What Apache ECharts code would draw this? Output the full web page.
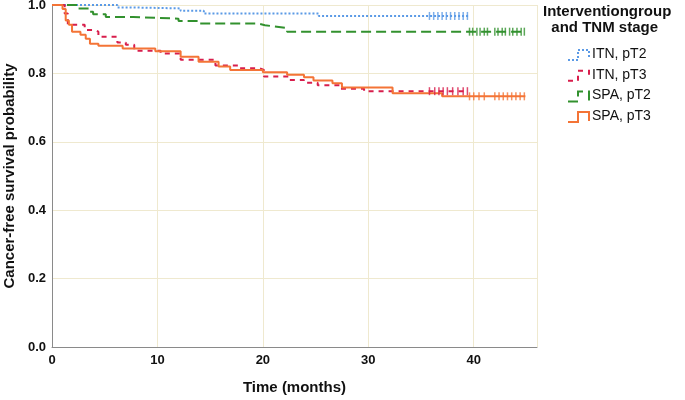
<!DOCTYPE html>
<html>
<head>
<meta charset="utf-8">
<script src="https://cdn.jsdelivr.net/npm/echarts@6/dist/echarts.min.js"></script>
<style>
  html, body { margin: 0; padding: 0; background: #fff; }
  #chart { width: 685px; height: 400px; }
</style>
</head>
<body>
<div id="chart"></div>
<script>
// Kaplan-Meier step data (time in months, survival)
const itnT2Times = [0, 6.2, 7.4, 12.2, 14.4, 25.3, 39.5]
const itnT2Surv = [1, 0.993, 0.99, 0.983, 0.975, 0.968, 0.968]
const itnT2Censor = [35.8, 36.2, 36.6, 37.0, 37.4, 37.8, 38.2, 38.6, 39.0, 39.4]

const itnT3Times = [0, 1.2, 1.5, 3.1, 4.0, 4.4, 6.2, 7.0, 7.8, 10.3, 12.2, 15.5, 17.8, 19.7, 20.1, 22.5, 23.9, 25.2, 27.3, 29.6, 39.5]
const itnT3Surv = [1, 0.975, 0.942, 0.927, 0.922, 0.907, 0.89, 0.884, 0.866, 0.858, 0.84, 0.823, 0.815, 0.81, 0.791, 0.781, 0.773, 0.765, 0.755, 0.748, 0.748]
const itnT3Censor = [35.8, 36.3, 36.7, 37.1, 37.5, 38.0, 38.5, 39.0, 39.4]

const spaT2Times = [0, 2.4, 3.5, 3.9, 5.1, 7.7, 12.0, 13.9, 19.5, 20.2, 20.9, 22.3, 44.9]
const spaT2Surv = [1, 0.99, 0.98, 0.973, 0.965, 0.96, 0.953, 0.946, 0.941, 0.938, 0.933, 0.922, 0.922]
const spaT2Censor = [39.6, 39.9, 40.3, 40.6, 41.0, 41.3, 42.0, 42.3, 42.7, 43.0, 43.4, 43.7, 44.1, 44.5, 44.8]

const spaT3Times = [0, 1.0, 1.3, 1.6, 1.9, 2.7, 3.2, 3.6, 4.4, 6.7, 9.8, 12.2, 13.9, 15.8, 16.9, 20.0, 22.3, 23.9, 24.8, 26.6, 27.5, 32.3, 37.0, 44.9]
const spaT3Surv = [1, 0.988, 0.955, 0.942, 0.922, 0.913, 0.901, 0.887, 0.881, 0.873, 0.865, 0.849, 0.834, 0.82, 0.81, 0.803, 0.796, 0.789, 0.779, 0.771, 0.759, 0.742, 0.733, 0.733]
const spaT3Censor = [39.6, 40.0, 40.5, 41.0, 42.0, 42.4, 42.8, 43.2, 43.6, 44.0, 44.4, 44.8]

const xTicks = [0, 10, 20, 30, 40]
const yTicks = [0, 0.2, 0.4, 0.6, 0.8, 1.0]

const groups = [
  { name: 'ITN, pT2', times: itnT2Times, surv: itnT2Surv, censor: itnT2Censor, color: '#5b9ae6', type: [2, 2], width: 2 },
  { name: 'ITN, pT3', times: itnT3Times, surv: itnT3Surv, censor: itnT3Censor, color: '#d81e4c', type: [5, 5], width: 2 },
  { name: 'SPA, pT2', times: spaT2Times, surv: spaT2Surv, censor: spaT2Censor, color: '#32912e', type: [10, 5], width: 2 },
  { name: 'SPA, pT3', times: spaT3Times, surv: spaT3Surv, censor: spaT3Censor, color: '#f47436', type: 'solid', width: 2 },
]

// value at time t on a step curve
const stepAt = (g, t) => {
  let v = g.surv[0]
  for (let i = 0; i < g.times.length; i++) {
    if (g.times[i] <= t) v = g.surv[i]
  }
  return v
}

const series = []
groups.forEach((g) => {
  series.push({
    name: g.name,
    type: 'line',
    step: 'end',
    symbol: 'none',
    data: g.times.map((t, i) => [t, g.surv[i]]),
    lineStyle: { color: g.color, width: g.width, type: g.type },
    z: 3,
  })
  series.push({
    name: g.name + ' censored',
    type: 'scatter',
    symbol: 'rect',
    symbolSize: [1.5, 8],
    data: g.censor.map((t) => [t, stepAt(g, t)]),
    itemStyle: { color: g.color, opacity: 0.8 },
    z: 4,
  })
})

// legend drawn as step icons
const legendGraphics = [
  {
    type: 'text', left: 543, top: 4,
    style: { text: 'Interventiongroup\n  and TNM stage', font: 'bold 15px "Liberation Sans", Arial, sans-serif', fill: '#111', lineHeight: 16 },
  },
]
groups.forEach((g, i) => {
  const y = 55 + i * 20.7
  legendGraphics.push({
    type: 'polyline',
    shape: { points: [[568, y + 5], [578, y + 5], [578, y - 5], [589, y - 5], [589, y + 4]] },
    style: { stroke: g.color, lineWidth: 2, fill: null, lineDash: g.type === 'solid' ? null : g.type },
  })
  legendGraphics.push({
    type: 'text', left: 592, top: y - 8,
    style: { text: g.name, font: '14px "Liberation Sans", Arial, sans-serif', fill: '#111' },
  })
})

const chart = echarts.init(document.getElementById('chart'))
chart.setOption({
  animation: false,
  textStyle: { fontFamily: '"Liberation Sans", Arial, sans-serif' },
  grid: { left: 52, right: 148, top: 5, bottom: 53, containLabel: false, outerBoundsMode: 'none' },
  xAxis: {
    type: 'value',
    min: 0,
    max: 46,
    interval: 10,
    name: 'Time (months)',
    nameLocation: 'middle',
    nameGap: 33,
    nameTextStyle: { fontSize: 15, fontWeight: 'bold', color: '#111' },
    axisLine: { lineStyle: { color: '#8a8a8a', width: 1 } },
    axisTick: { show: false },
    axisLabel: {
      fontSize: 13, fontWeight: 'bold', color: '#111', margin: 7, showMaxLabel: false,
      formatter: (v) => (xTicks.includes(v) ? String(v) : ''),
    },
    splitLine: { show: true, lineStyle: { color: '#efe9cf', width: 1 } },
  },
  yAxis: {
    type: 'value',
    min: 0,
    max: 1,
    interval: 0.2,
    name: 'Cancer-free survival probability',
    nameLocation: 'middle',
    nameGap: 35,
    nameTextStyle: { fontSize: 15, fontWeight: 'bold', color: '#111' },
    axisLine: { show: true, lineStyle: { color: '#8a8a8a', width: 1 } },
    axisTick: { show: false },
    axisLabel: {
      fontSize: 13, fontWeight: 'bold', color: '#111', margin: 6,
      formatter: (v) => (yTicks.some((t) => Math.abs(t - v) < 1e-9) ? v.toFixed(1) : ''),
    },
    splitLine: { show: true, lineStyle: { color: '#efe9cf', width: 1 } },
  },
  graphic: legendGraphics,
  series: series,
})
</script>
</body>
</html>
